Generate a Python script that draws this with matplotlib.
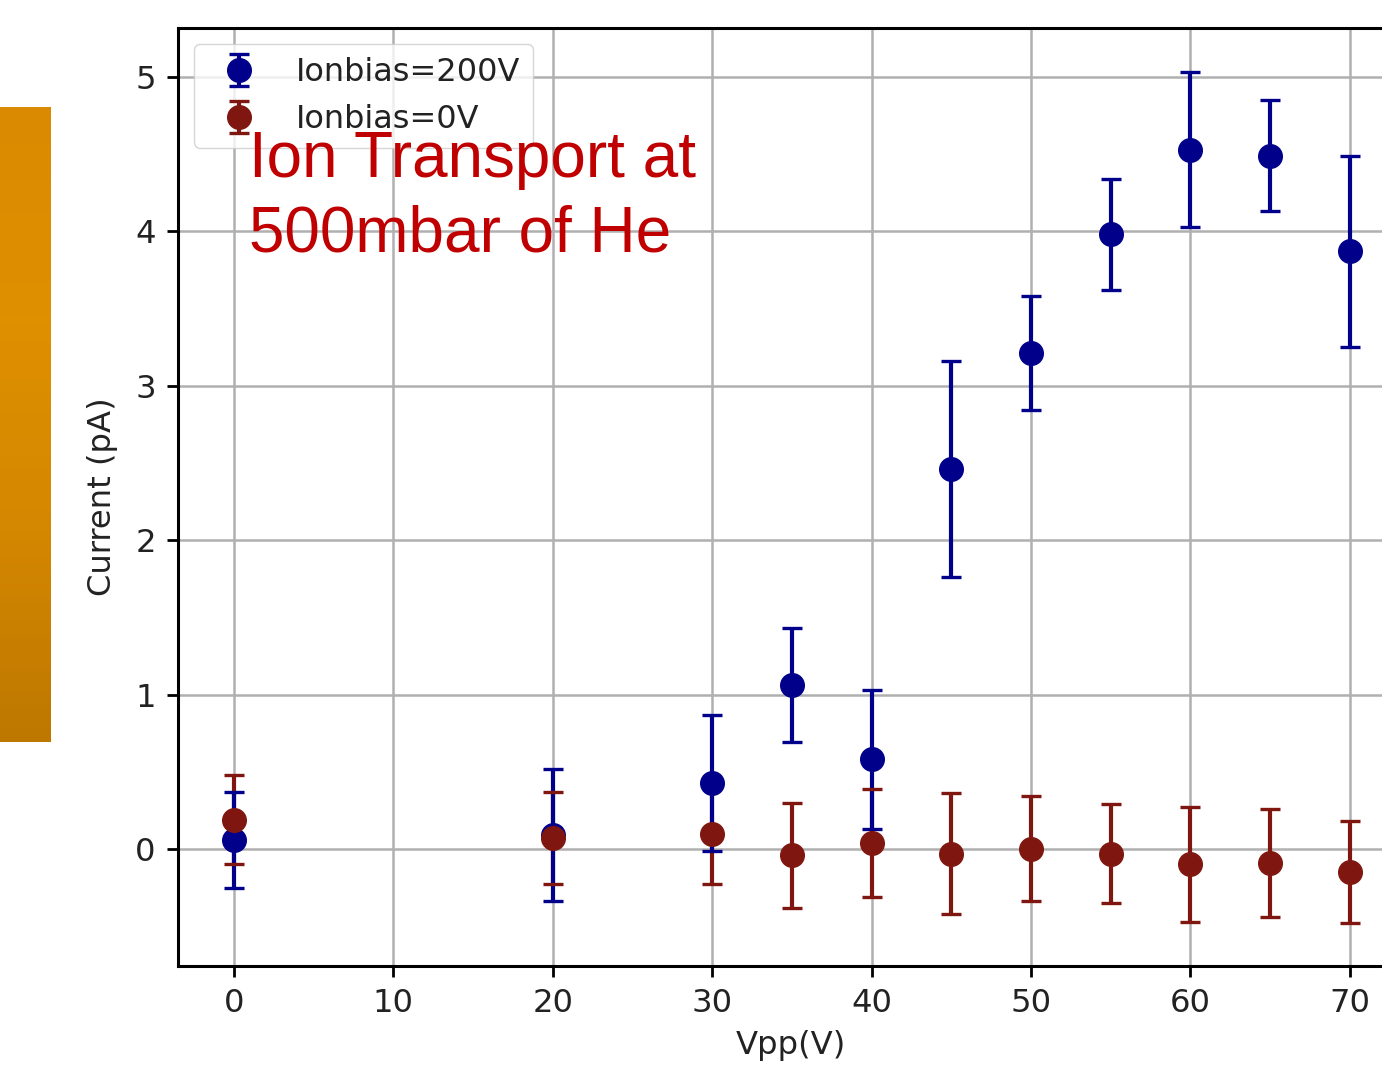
import numpy as np
import matplotlib
matplotlib.use("Agg")
import matplotlib.pyplot as plt
from matplotlib.colors import LinearSegmentedColormap

# Vpp sweep (V)
vpp = [0, 20, 30, 35, 40, 45, 50, 55, 60, 65, 70]

# Ionbias = 200 V
cur_200 = [0.06, 0.09, 0.43, 1.06, 0.58, 2.46, 3.21, 3.98, 4.53, 4.49, 3.87]
err_200 = [0.31, 0.43, 0.44, 0.37, 0.45, 0.70, 0.37, 0.36, 0.50, 0.36, 0.62]

# Ionbias = 0 V
cur_0 = [0.19, 0.07, 0.10, -0.04, 0.04, -0.03, 0.00, -0.03, -0.10, -0.09, -0.15]
err_0 = [0.29, 0.30, 0.33, 0.34, 0.35, 0.39, 0.34, 0.32, 0.37, 0.35, 0.33]

blue = "#00008b"
red = "#7f1710"
fs = 23.2

fig = plt.figure(figsize=(13.82, 10.66), dpi=100)

# orange slide strip on the left
side = fig.add_axes([0, 1 - 742 / 1066, 51 / 1382, (742 - 107) / 1066])
grad = np.linspace(0, 1, 100).reshape(-1, 1)
cm = LinearSegmentedColormap.from_list("org", ["#d98a00", "#df9000", "#d48700", "#be7800"])
side.imshow(grad, aspect="auto", cmap=cm)
side.axis("off")

ax = fig.add_axes([178 / 1382, 100 / 1066, 1226 / 1382, 938 / 1066])

style = dict(fmt="o", markersize=17, elinewidth=3.0, capsize=7.5, capthick=2.4)
r = ax.errorbar(vpp, cur_0, yerr=err_0, color=red, ecolor=red, label="Ionbias=0V", **style)
b = ax.errorbar(vpp, cur_200, yerr=err_200, color=blue, ecolor=blue, label="Ionbias=200V", **style)

# draw order like the old matplotlib: bars below, then caps, then markers
for cont, z in ((b, 0), (r, 0.05)):
    for bc in cont[2]:
        bc.set_zorder(1.8)
    for cl in cont[1]:
        cl.set_zorder(1.9 + z)
    cont[0].set_zorder(2.0 + z)

ax.set_xlim(-3.5, 73.4)
ax.set_ylim(-0.758, 5.317)
ax.set_xticks([0, 10, 20, 30, 40, 50, 60, 70])
ax.set_yticks([0, 1, 2, 3, 4, 5])
ax.grid(True, color="#b0b0b0", linewidth=1.8)
ax.set_axisbelow(True)
for s in ax.spines.values():
    s.set_linewidth(2.2)
ax.tick_params(labelsize=fs, length=8, width=2, labelcolor="#222222", pad=8)

ax.set_xlabel("Vpp(V)", fontsize=fs, color="#222222", labelpad=8)
ax.set_ylabel("Current (pA)", fontsize=fs, color="#222222", labelpad=12)

ax.legend([b, r], ["Ionbias=200V", "Ionbias=0V"], loc="upper left", fontsize=23.0,
          labelcolor="#222222")

fig.text(249 / 1382, 1 - 177 / 1066, "Ion Transport at", color="#c00000",
         fontsize=46, family="Liberation Sans", va="baseline")
fig.text(249 / 1382, 1 - 252 / 1066, "500mbar of He", color="#c00000",
         fontsize=46, family="Liberation Sans", va="baseline")

fig.savefig("out.png", dpi=100)
